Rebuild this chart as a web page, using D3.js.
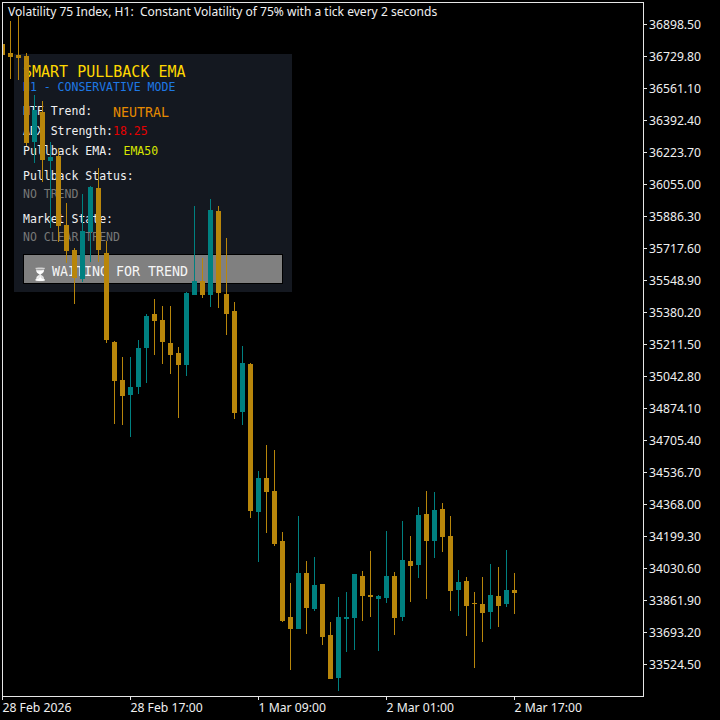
<!DOCTYPE html>
<html>
<head>
<meta charset="utf-8">
<script src="https://cdn.jsdelivr.net/npm/d3@7"></script>
<style>
    html, body { margin: 0; padding: 0; background: #000; }
    svg { display: block; }
    .mono { font-family: "DejaVu Sans Mono", monospace; }
</style>
</head>
<body>
<svg class="chart" width="720" height="720"></svg>
<script>
// H1 candles
const opens = [36793.1, 36745.6, 36735.1, 36729.8, 36276.4, 36434.6, 36176.2, 36202.6, 35838.8, 35707.0,
    35554.1, 35801.9, 36033.9, 35691.2, 35222.0, 35021.7, 34942.6, 34984.8, 35190.4, 35369.6,
    35338.0, 35216.8, 35164.0, 35100.8, 35469.8, 35543.6, 35469.8, 35912.6, 35475.0, 35385.4,
    34853.0, 35106.0, 34325.8, 34505.0, 34436.5, 34172.9, 33772.2, 33708.9, 34004.2, 33814.4,
    33946.2, 33677.3, 33450.6, 33761.7, 33767.0, 33988.6, 33888.3, 33867.2, 33872.4, 33988.6,
    33772.2, 34067.5, 34046.4, 34315.3, 34172.9, 34341.7, 34199.3, 33914.6, 33962.1, 33846.0,
    33840.8, 33798.5, 33883.0, 33840.8, 33914.6]
const highs = [36824.7, 36914.3, 36945.9, 36745.6, 36524.2, 36492.6, 36276.4, 36244.8, 35954.8, 35717.6,
    36002.3, 36044.4, 36139.3, 35754.5, 35227.3, 35143.0, 35143.0, 35232.6, 35369.6, 35448.7,
    35411.8, 35411.8, 35195.7, 35485.6, 35939.0, 35664.8, 35975.9, 35939.0, 35770.3, 35433.9,
    35201.0, 35111.3, 34541.9, 34679.0, 34652.7, 34220.4, 33951.5, 34304.6, 34067.5, 34088.6,
    33946.2, 33745.9, 33877.6, 33904.0, 33999.0, 34014.8, 34120.2, 33888.3, 34225.6, 34009.5,
    34278.3, 34199.3, 34352.2, 34436.5, 34431.3, 34373.3, 34304.6, 34020.1, 33983.3, 33904.0,
    33983.3, 34051.7, 34035.9, 34125.5, 34004.2]
const lows = [36708.7, 36608.6, 36603.3, 36255.3, 36165.7, 36065.5, 35823.0, 35749.2, 35638.5, 35422.4,
    35538.4, 35643.8, 35643.8, 35216.8, 34789.7, 34784.5, 34721.2, 34947.9, 35005.9, 35153.5,
    35106.0, 35053.3, 34821.3, 35042.8, 35469.8, 35454.0, 35406.5, 35401.3, 35258.9, 34816.1,
    34784.5, 34294.1, 34062.2, 34215.1, 34146.6, 33745.9, 33492.9, 33708.9, 33682.6, 33803.9,
    33624.6, 33445.4, 33382.1, 33587.7, 33598.3, 33751.2, 33772.2, 33593.0, 33846.0, 33677.3,
    33751.2, 33851.2, 33978.0, 33867.2, 34083.3, 34115.0, 33803.9, 33777.5, 33672.1, 33503.3,
    33640.4, 33708.9, 33719.5, 33825.0, 33788.0]
const closes = [36735.1, 36724.5, 36719.3, 36271.1, 36445.1, 36181.5, 36197.3, 35833.5, 35701.8, 35559.4,
    35807.2, 36039.2, 35707.0, 35232.6, 35016.4, 34937.3, 34984.8, 35190.4, 35359.1, 35332.7,
    35222.0, 35153.5, 35100.8, 35480.3, 35543.6, 35469.8, 35917.9, 35480.3, 35369.6, 34847.8,
    35111.3, 34331.0, 34505.0, 34431.3, 34157.1, 33751.2, 33708.9, 34004.2, 33819.7, 33941.0,
    33666.8, 33445.4, 33772.2, 33772.2, 33999.0, 33883.0, 33877.6, 33883.0, 33988.6, 33767.0,
    34072.8, 34041.1, 34310.0, 34172.9, 34336.4, 34194.0, 33909.3, 33956.8, 33830.2, 33840.8,
    33793.2, 33888.3, 33830.2, 33914.6, 33898.8]

const priceTicks = [36898.5, 36729.8, 36561.1, 36392.4, 36223.7, 36055.0, 35886.3, 35717.6, 35548.9, 35380.2,
    35211.5, 35042.8, 34874.1, 34705.4, 34536.7, 34368.0, 34199.3, 34030.6, 33861.9, 33693.2, 33524.5]
const timeTickBars = [0, 16, 32, 48, 64]
const timeTickLabels = ["28 Feb 2026", "28 Feb 17:00", "1 Mar 09:00", "2 Mar 01:00", "2 Mar 17:00"]

const chartTitle = "Volatility 75 Index, H1:  Constant Volatility of 75% with a tick every 2 seconds"

const upColor = "#008080"
const downColor = "#B8860B"

const svg = d3.select(".chart")

// plot frame, in px
const plot = { left: 2, top: 2, right: 643, bottom: 696 }

const xScale = d3.scaleLinear().domain([0, opens.length - 1]).range([2, 514])
const yScale = d3.scaleLinear().domain([priceTicks[0], priceTicks[priceTicks.length - 1]]).range([24, 664])

svg.append("rect")
    .attr("width", 720)
    .attr("height", 720)
    .attr("fill", "#000")

// info panel sits under the candles
const panel = svg.append("g").attr("class", "mono")

panel.append("rect")
    .attr("x", 14).attr("y", 54)
    .attr("width", 278).attr("height", 238)
    .attr("fill", "#141820")

panel.append("rect")
    .attr("x", 23.5).attr("y", 254.5)
    .attr("width", 259).attr("height", 29)
    .attr("fill", "#808080")
    .attr("stroke", "#000")

const panelLines = [
    ["SMART PULLBACK EMA", 23, 77, 15, "#FFD700"],
    ["H1 - CONSERVATIVE MODE", 23, 91, 11.5, "#1E78E6"],
    ["HTF Trend:", 23, 115, 11.5, "#F0F0F0"],
    ["NEUTRAL", 113, 117, 13.3, "#E68A00"],
    ["ADX Strength:", 23, 135, 11.5, "#F0F0F0"],
    ["18.25", 113, 135, 11.5, "#E60000"],
    ["Pullback EMA:", 23, 155, 11.5, "#F0F0F0"],
    ["EMA50", 123.5, 155, 11.5, "#D7E600"],
    ["Pullback Status:", 23, 180, 11.5, "#F0F0F0"],
    ["NO TREND", 23, 198, 11.5, "#787878"],
    ["Market State:", 23, 223, 11.5, "#F0F0F0"],
    ["NO CLEAR TREND", 23, 241, 11.5, "#787878"],
    ["WAITING FOR TREND", 52, 276, 13.3, "#F5F5F5"]
]

panel.selectAll("text.line")
    .data(panelLines)
    .enter()
    .append("text")
    .attr("class", "line")
    .attr("x", d => d[1])
    .attr("y", d => d[2])
    .attr("font-size", d => d[3])
    .attr("fill", d => d[4])
    .text(d => d[0])

// the emoji font is in colour, the reference glyph is grey
panel.append("text")
    .attr("x", 32)
    .attr("y", 279)
    .attr("font-size", 13)
    .attr("fill", "#F0F0F0")
    .style("filter", "grayscale(1) brightness(1.6)")
    .text("\u23F3")

// candles
svg.append("clipPath")
    .attr("id", "plot-clip")
    .append("rect")
    .attr("x", plot.left + 1).attr("y", plot.top + 1)
    .attr("width", plot.right - plot.left - 1).attr("height", plot.bottom - plot.top - 1)

const candles = svg.append("g")
    .attr("clip-path", "url(#plot-clip)")
    .attr("shape-rendering", "crispEdges")
    .selectAll("g")
    .data(opens)
    .enter()
    .append("g")
    .attr("fill", (d, idx) => closes[idx] > d ? upColor : downColor)

candles.append("rect")
    .attr("x", (d, idx) => xScale(idx))
    .attr("width", 1)
    .attr("y", (d, idx) => Math.round(yScale(highs[idx])))
    .attr("height", (d, idx) => Math.round(yScale(lows[idx])) - Math.round(yScale(highs[idx])))

candles.append("rect")
    .attr("x", (d, idx) => xScale(idx) - 2)
    .attr("width", 5)
    .attr("y", (d, idx) => Math.round(yScale(Math.max(d, closes[idx]))))
    .attr("height", (d, idx) => Math.max(1, Math.round(yScale(Math.min(d, closes[idx]))) - Math.round(yScale(Math.max(d, closes[idx])))))

// frame and axes
svg.append("rect")
    .attr("x", plot.left + 0.5).attr("y", plot.top + 0.5)
    .attr("width", plot.right - plot.left).attr("height", plot.bottom - plot.top)
    .attr("fill", "none")
    .attr("stroke", "#E6E6E6")

const yAxis = d3.axisRight(yScale)
    .tickValues(priceTicks)
    .tickFormat(d => d.toFixed(2))
    .tickSize(4)
    .tickPadding(2)

const yAxisG = svg.append("g")
    .attr("transform", `translate(${plot.right}, 0)`)
    .call(yAxis)

yAxisG.selectAll("text").attr("dy", "0.38em")

const xAxis = d3.axisBottom(xScale)
    .tickValues(timeTickBars)
    .tickFormat((d, idx) => timeTickLabels[idx])
    .tickSize(4)
    .tickPadding(3)

const xAxisG = svg.append("g")
    .attr("transform", `translate(0, ${plot.bottom})`)
    .call(xAxis)

xAxisG.selectAll("text").attr("text-anchor", "start").attr("x", 0)

svg.selectAll(".domain").remove()
svg.selectAll(".tick line").attr("stroke", "#E6E6E6")
svg.selectAll(".tick text")
    .attr("fill", "#F0F0F0")
    .attr("font-family", "Noto Sans")
    .attr("font-size", 12.2)

svg.append("text")
    .attr("x", 8)
    .attr("y", 16)
    .attr("fill", "#F0F0F0")
    .attr("font-family", "Noto Sans")
    .attr("font-size", 12.05)
    .style("white-space", "pre")
    .text(chartTitle)
</script>
</body>
</html>
